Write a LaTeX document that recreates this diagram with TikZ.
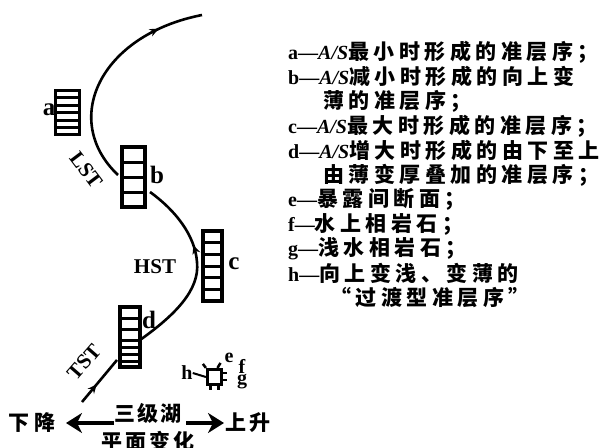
\documentclass[tikz,border=0pt]{standalone}
\usepackage{fontspec}
\setmainfont{Liberation Serif}
\newfontfamily\cjk{Noto Sans CJK SC}
\usetikzlibrary{arrows.meta,decorations.markings}
\ExplSyntaxOn
\NewDocumentCommand\cjsp{ O{4.5pt} m }{ {\cjk\bfseries\fontsize{21pt}{21pt}\selectfont \tl_map_inline:nn {#2} { ##1 \hspace{#1} }} }
\ExplSyntaxOff
\tikzset{
  curve/.style={line width=2.6pt},
  midarrow/.style={postaction={decorate},decoration={markings,mark=at position #1 with {\arrow{Stealth[length=9pt,width=8pt]}}}},
  cellbox/.style={draw,line width=3.4pt,inner sep=0pt},
  divider/.style={line width=3pt},
  leg/.style={anchor=west,inner sep=0pt,font=\fontsize{20pt}{20pt}\selectfont\bfseries},
  lbl/.style={inner sep=0pt,font=\fontsize{25pt}{25pt}\selectfont\bfseries},
  stl/.style={inner sep=0pt,font=\fontsize{21pt}{21pt}\selectfont\bfseries},
  small/.style={inner sep=0pt,font=\fontsize{20pt}{20pt}\selectfont\bfseries},
  bigarrow/.style={line width=4pt,-{Stealth[length=16pt,width=20pt,inset=5pt]}},
}
\begin{document}
\begin{tikzpicture}[x=1pt,y=-1pt]
\useasboundingbox (0,0) rectangle (610,447);
% boxes
\node[cellbox,minimum width=24pt,minimum height=44pt] (boxa) at (67.5,112.5) {};
\foreach \yy in {97.5,105,112.5,120,127.5} \draw[divider] (boxa.west |- 0,\yy) -- (boxa.east |- 0,\yy);
\node[cellbox,minimum width=23pt,minimum height=60pt] (boxb) at (133.5,177) {};
\foreach \yy in {162,177,192} \draw[divider] (boxb.west |- 0,\yy) -- (boxb.east |- 0,\yy);
\node[cellbox,minimum width=19pt,minimum height=70pt] (boxc) at (212.5,266) {};
\foreach \yy in {242.7,254.3,266,277.7,289.3} \draw[divider] (boxc.west |- 0,\yy) -- (boxc.east |- 0,\yy);
\node[cellbox,minimum width=20pt,minimum height=60pt] (boxd) at (130,337) {};
\foreach \yy in {318,329,340,347,354,361} \draw[divider] (boxd.west |- 0,\yy) -- (boxd.east |- 0,\yy);
% labels of boxes
\node[lbl] (la) at (49,110) {a};
\node[lbl] (lb) at (157,175) {b};
\node[lbl] (lc) at (234,264) {c};
\node[lbl] (ld) at (149,320) {d};
% curves
\coordinate (lstA) at (118,175);
\coordinate (lstB) at (202,15);
\coordinate (hstA) at (140,340);
\coordinate (hstM) at (197,262);
\coordinate (hstB) at (150,192);
\coordinate (tstA) at (82,402);
\coordinate (tstB) at (117,360);
\draw[curve,midarrow=0.8] (lstA) .. controls (60,120) and (100,35) .. (lstB);
\draw[curve,midarrow=0.63] (hstA) .. controls (175,315) and (200,290) .. (hstM) .. controls (195,235) and (175,210) .. (hstB);
\draw[curve,midarrow=0.42] (tstA) -- (tstB);
\node[stl,rotate=-53] (lst) at (86,170) {LST};
\node[stl] (hst) at (155,267) {HST};
\node[stl,rotate=49] (tst) at (84,362) {TST};
% e f g h
\node[cellbox,line width=3.2pt,minimum width=14pt,minimum height=15pt] (blob) at (214.5,377) {};
\node[small] (lh) at (187,373) {h};
\node[small] (le) at (229,358) {e};
\node[small] (lf) at (242,366) {f};
\node[small] (lg) at (242,382) {g};
\draw[line width=2pt] (lh.east) -- (blob.west);
\draw[line width=2.5pt] (blob.north west) -- ++(-3,-4);
\draw[line width=2.5pt] ([xshift=3pt]blob.north) -- ++(3,-5);
\draw[line width=2.5pt] ([yshift=-3pt]blob.east) -- ++(4,0);
\draw[line width=2.5pt] ([yshift=4pt]blob.east) -- ++(4,0);
\draw[line width=2.5pt] ([xshift=-4pt]blob.south) -- ++(0,4);
\draw[line width=2.5pt] ([xshift=4pt]blob.south) -- ++(0,4);
% bottom axis
\node[leg] (down) at (8,423) {\cjsp[5pt]{下降}};
\node[leg] (up) at (225,423) {\cjsp[3pt]{上升}};
\node[leg,anchor=center] (t1) at (148,413) {\cjsp[2pt]{三级湖}};
\node[leg,anchor=center] (t2) at (148,441) {\cjsp[3pt]{平面变化}};
\coordinate (arL) at (66,423);
\coordinate (arR) at (224,423);
\coordinate (stL) at (114,423);
\coordinate (stR) at (186,423);
\draw[bigarrow] (stL) -- (arL);
\draw[bigarrow] (stR) -- (arR);
% legend
\node[leg] (l1) at (288,52) {a—\textit{A/S}\cjsp{最小时形成的准层序；}};
\node[leg] (l2) at (288,76.6) {b—\textit{A/S}\cjsp{减小时形成的向上变}};
\node[leg] (l3) at (323,101.2) {\cjsp{薄的准层序；}};
\node[leg] (l4) at (288,125.8) {c—\textit{A/S}\cjsp{最大时形成的准层序；}};
\node[leg] (l5) at (288,150.4) {d—\textit{A/S}\cjsp{增大时形成的由下至上}};
\node[leg] (l6) at (323,175) {\cjsp{由薄变厚叠加的准层序；}};
\node[leg] (l7) at (288,199.6) {e—\cjsp{暴露间断面；}};
\node[leg] (l8) at (288,224.2) {f—\cjsp{水上相岩石；}};
\node[leg] (l9) at (288,248.8) {g—\cjsp{浅水相岩石；}};
\node[leg] (l10) at (288,273.4) {h—\cjsp{向上变浅、变薄的}};
\node[leg] (l11) at (330,298) {\cjsp{“过渡型准层序”}};
\end{tikzpicture}
\end{document}
